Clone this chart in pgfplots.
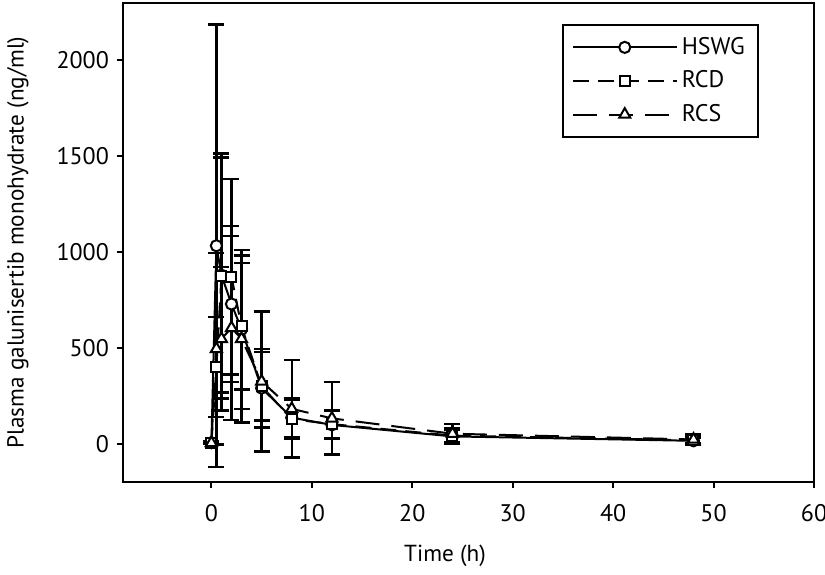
\documentclass[border=0pt]{standalone}
\usepackage{fontspec}
\setmainfont{PT Sans}
\usepackage{pgfplots}
\usepackage{pgfplotstable}
\pgfplotsset{compat=1.18}
\pgfplotstableread{
t y e
0 5 8
0.5 1033 1155
1 880 613
2 729 408
3 597 415
5 290 205
8 136 101
12 98 75
24 38 32
48 15 15
}\hswg
\pgfplotstableread{
t y e
0 3 5
0.5 400 262
1 875 640
2 871 509
3 612 330
5 300 178
8 128 103
12 102 72
24 42 40
48 18 20
}\rcd
\pgfplotstableread{
t y e
0 4 6
0.5 495 500
1 547 374
2 604 481
3 547 436
5 325 365
8 182 254
12 132 189
24 52 50
48 22 28
}\rcs
\begin{document}
\fontsize{11.6}{13.9}\selectfont
\begin{tikzpicture}
\begin{axis}[
 scale only axis, width=345.5pt, height=239.5pt,
 xmin=-8.8, xmax=60, ymin=-200, ymax=2300,
 xtick={0,10,...,60}, ytick={0,500,...,2000},
 tick align=outside, xtick pos=bottom, ytick pos=left,
 major tick length=3pt,
 axis line style={line width=1pt},
 every tick/.style={black, line width=1pt},
 /pgf/number format/assume math mode=true,
 /pgf/number format/1000 sep={},
 ticklabel style={font=\fontsize{12}{14}\selectfont},
 xticklabel style={yshift=-4pt},
 xlabel={Time (h)}, ylabel={Plasma galunisertib monohydrate (ng/ml)},
 x label style={at={(axis description cs:0.466,-0.155)}, anchor=center, font=\fontsize{11.6}{13.9}\selectfont},
 y label style={at={(axis description cs:-0.152,0.5)}, anchor=center, font=\fontsize{11.6}{13.9}\selectfont},
 legend style={at={(axis description cs:0.92,0.956)}, anchor=north east, draw=black, line width=1pt, row sep=2.5pt, inner xsep=4.5pt, inner ysep=4pt, font=\fontsize{12}{14}\selectfont},
 legend cell align=left,
 legend image code/.code={\draw[mark repeat=2, mark phase=2] plot coordinates {(0pt,0pt) (26pt,0pt) (52pt,0pt)};},
]
\addplot[black, line width=1pt, solid, mark=*, mark size=2.8pt, mark options={solid, fill=white, draw=black},
  error bars/.cd, y dir=both, y explicit,
  error bar style={solid, line width=1.2pt, black},
  error mark options={rotate=90, mark size=4pt, line width=1.2pt, solid, black}]
  table[x=t, y=y, y error=e]{\hswg};
\addlegendentry{HSWG}
\addplot[black, line width=1pt, dash pattern=on 8pt off 4.5pt, mark=square*, mark size=2.5pt, mark options={solid, fill=white, draw=black},
  error bars/.cd, y dir=both, y explicit,
  error bar style={solid, line width=1.2pt, black},
  error mark options={rotate=90, mark size=4pt, line width=1.2pt, solid, black}]
  table[x=t, y=y, y error=e]{\rcd};
\addlegendentry{RCD}
\addplot[black, line width=1pt, dash pattern=on 12pt off 6pt, mark=triangle*, mark size=3.2pt, mark options={solid, fill=white, draw=black},
  error bars/.cd, y dir=both, y explicit,
  error bar style={solid, line width=1.2pt, black},
  error mark options={rotate=90, mark size=4pt, line width=1.2pt, solid, black}]
  table[x=t, y=y, y error=e]{\rcs};
\addlegendentry{RCS}
\end{axis}
\pgfresetboundingbox
\path ([shift={(-61.5pt,-46pt)}]current axis.south west) rectangle ([shift={(5.5pt,1.5pt)}]current axis.north east);
\end{tikzpicture}
\end{document}
